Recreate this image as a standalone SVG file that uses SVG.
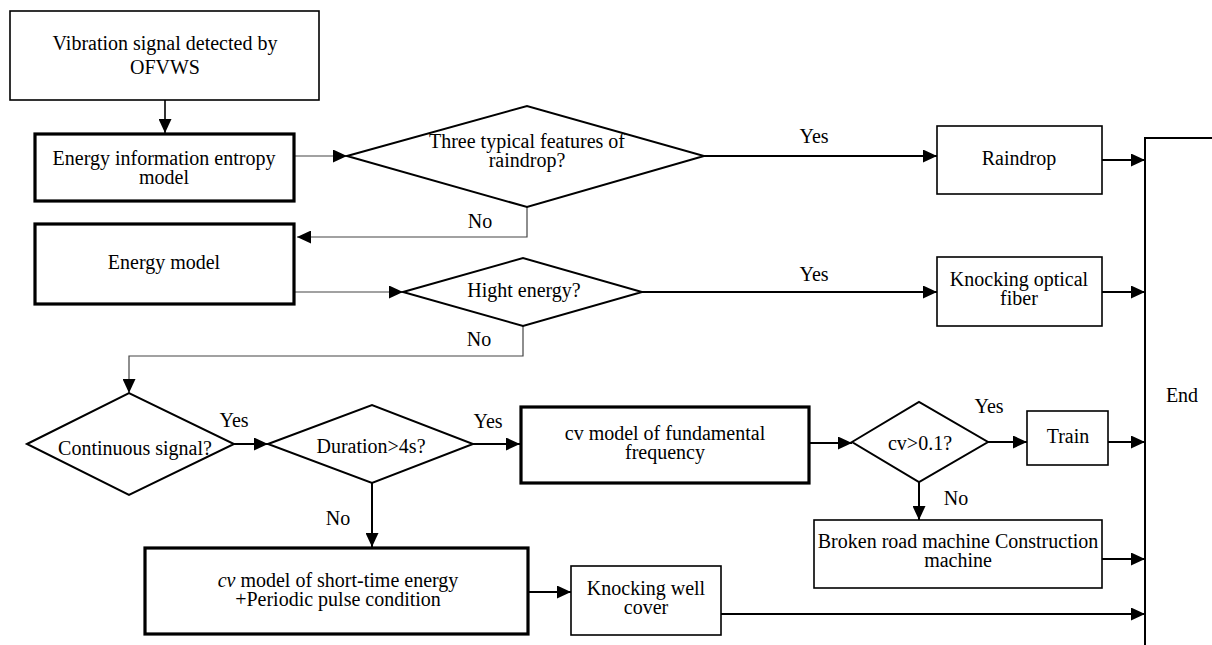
<svg xmlns="http://www.w3.org/2000/svg" width="1212" height="645" viewBox="0 0 1212 645">
<defs>
<style>
text{font-family:'Liberation Serif','Times New Roman','DejaVu Serif',serif;font-size:20px;fill:#000;text-anchor:middle}
.box{fill:#fff;stroke:#000;stroke-width:1.6}
.tbox{fill:#fff;stroke:#000;stroke-width:3.2}
.dia{fill:#fff;stroke:#000;stroke-width:2}
.c{fill:none;stroke:#000;stroke-width:2}
.ct{fill:none;stroke:#444;stroke-width:1.2}
</style>
<marker id="ah" viewBox="0 0 14 13" refX="14" refY="6.5" markerWidth="14" markerHeight="13" markerUnits="userSpaceOnUse" orient="auto"><path d="M0,0 L14,6.5 L0,13 z" fill="#000"/></marker>
</defs>
<rect width="1212" height="645" fill="#fff"/>
<g font-family="Liberation Serif, Times New Roman, serif" font-size="20">
<g id="connectors">
<path class="c" d="M165,100 V133" marker-end="url(#ah)" style="stroke-width:1.6"/>
<path class="ct" d="M295,156 H347" marker-end="url(#ah)"/>
<path class="c" d="M704,156 H937" marker-end="url(#ah)"/>
<path class="ct" d="M527,207 V237 H297" marker-end="url(#ah)"/>
<path class="c" d="M1102,160 H1145" marker-end="url(#ah)"/>
<path class="ct" d="M295,292 H403" marker-end="url(#ah)"/>
<path class="c" d="M642,292 H937" marker-end="url(#ah)"/>
<path class="c" d="M1102,292 H1145" marker-end="url(#ah)"/>
<path class="ct" d="M523,326 V356 H129 V393" marker-end="url(#ah)"/>
<path class="c" d="M234,444 H268" marker-end="url(#ah)"/>
<path class="c" d="M473,444 H520" marker-end="url(#ah)"/>
<path class="c" d="M372,483 V547" marker-end="url(#ah)"/>
<path class="c" d="M809,443 H852" marker-end="url(#ah)"/>
<path class="c" d="M988,442 H1027" marker-end="url(#ah)"/>
<path class="c" d="M1108,442 H1145" marker-end="url(#ah)"/>
<path class="c" d="M919,482 V520" marker-end="url(#ah)"/>
<path class="c" d="M1102,559 H1145" marker-end="url(#ah)"/>
<path class="c" d="M528,592 H571" marker-end="url(#ah)"/>
<path class="c" d="M721,614 H1145" marker-end="url(#ah)"/>
<text x="814" y="143">Yes</text>
<text x="480" y="228">No</text>
<text x="814" y="281">Yes</text>
<text x="479" y="346">No</text>
<text x="234" y="427">Yes</text>
<text x="488" y="428">Yes</text>
<text x="338" y="525">No</text>
<text x="989" y="413">Yes</text>
<text x="956" y="505">No</text>
</g>
<g id="n-start"><rect class="box" x="10" y="11" width="309" height="89"/><text x="165" y="50">Vibration signal detected by</text><text x="165" y="74">OFVWS</text></g>
<g id="n-entropy"><rect class="tbox" x="35" y="134" width="259" height="67"/><text x="164" y="165">Energy information entropy</text><text x="164" y="184">model</text></g>
<g id="n-raindropq"><polygon class="dia" points="347,156 527,106 704,156 527,207"/><text x="527" y="148">Three typical features of</text><text x="527" y="167">raindrop?</text></g>
<g id="n-raindrop"><rect class="box" x="937" y="126" width="165" height="68"/><text x="1019" y="165">Raindrop</text></g>
<g id="n-energy"><rect class="tbox" x="35" y="224" width="259" height="80"/><text x="164" y="269">Energy model</text></g>
<g id="n-hightq"><polygon class="dia" points="403,292 523,258 642,292 523,326"/><text x="524" y="297">Hight energy?</text></g>
<g id="n-knockfiber"><rect class="box" x="937" y="257" width="165" height="69"/><text x="1019" y="286">Knocking optical</text><text x="1019" y="305">fiber</text></g>
<g id="n-contq"><polygon class="dia" points="27,444 129,393 234,444 129,495"/><text x="135" y="455">Continuous signal?</text></g>
<g id="n-durq"><polygon class="dia" points="268,444 372,405 473,444 372,483"/><text x="371" y="453">Duration&gt;4s?</text></g>
<g id="n-cvfund"><rect class="tbox" x="521" y="407" width="288" height="76"/><text x="665" y="440">cv model of fundamental</text><text x="665" y="459">frequency</text></g>
<g id="n-cvq"><polygon class="dia" points="852,442 919,402 988,442 919,482"/><text x="920" y="450">cv&gt;0.1?</text></g>
<g id="n-train"><rect class="box" x="1027" y="411" width="81" height="54"/><text x="1068" y="443">Train</text></g>
<g id="n-broken"><rect class="box" x="814" y="520" width="288" height="68"/><text x="958" y="548">Broken road machine Construction</text><text x="958" y="567">machine</text></g>
<g id="n-cvshort"><rect class="tbox" x="145" y="548" width="383" height="86"/><text x="338" y="587"><tspan font-style="italic">cv</tspan> model of short-time energy</text><text x="338" y="606">+Periodic pulse condition</text></g>
<g id="n-well"><rect class="box" x="571" y="566" width="150" height="69"/><text x="646" y="595">Knocking well</text><text x="646" y="614">cover</text></g>
<g id="n-end"><path d="M1212,138 H1145 V645" fill="none" stroke="#000" stroke-width="2"/><text x="1182" y="402">End</text></g>
</g>
</svg>
